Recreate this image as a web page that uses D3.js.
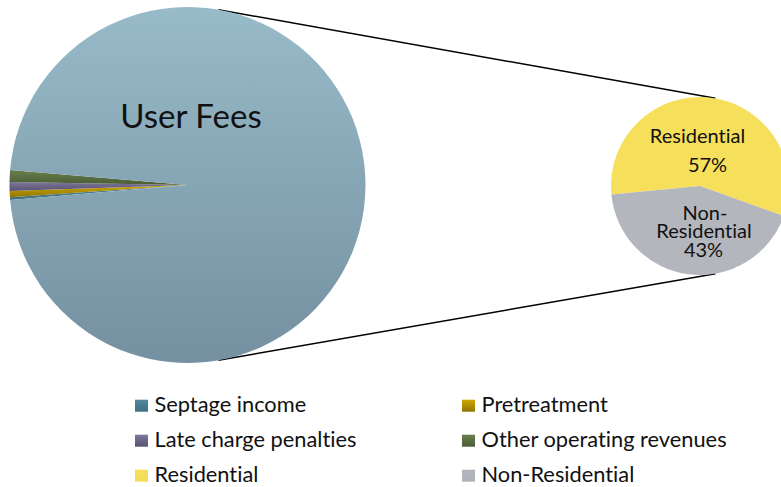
<!DOCTYPE html>
<html><head><meta charset="utf-8">
<script src="https://cdn.jsdelivr.net/npm/d3@7"></script>
<style>body{margin:0;background:#fff;}svg{display:block;font-family:Lato,"Open Sans",sans-serif;font-variant-ligatures:none;}</style>
</head><body>
<svg id="chart" width="781" height="487"></svg>
<script>
// ---- data ----
const mainCategories = ["Septage income", "Pretreatment", "Late charge penalties", "Other operating revenues", "User Fees"];
const mainValues = [0.24, 0.57, 0.81, 1.07, 97.31];
const subCategories = ["Residential", "Non-Residential"];
const subValues = [57, 43];
const subLabels = [["Residential", "57%"], ["Non-", "Residential", "43%"]];
const legendItems = ["Septage income", "Pretreatment", "Late charge penalties", "Other operating revenues", "Residential", "Non-Residential"];

// ---- styles ----
const colorStops = {
  "Septage income": ["#4f8a9e", "#3e6f80"],
  "Pretreatment": ["#cfa800", "#8f7500"],
  "Late charge penalties": ["#7e769c", "#5a5270"],
  "Other operating revenues": ["#68804c", "#4a5c36"],
  "User Fees": ["#98bbc9", "#7590a0"],
  "Residential": ["#f6df5b", "#f4dc55"],
  "Non-Residential": ["#b4b6be", "#b0b2ba"]
};

const svg = d3.select("#chart");
const defs = svg.append("defs");
const gid = name => "g_" + name.replace(/[^A-Za-z]/g, "");
Object.entries(colorStops).forEach(([k, c]) => {
  const g = defs.append("linearGradient").attr("id", gid(k)).attr("x1", 0).attr("y1", 0).attr("x2", 0).attr("y2", 1);
  g.append("stop").attr("offset", "0%").attr("stop-color", c[0]);
  g.append("stop").attr("offset", "100%").attr("stop-color", c[1]);
});
const mainC = [187.5, 185], mainR = 178;
const subC = [700, 186], subR = 89;

const deg = Math.PI / 180;
const total = d3.sum(mainValues);
const smallSum = d3.sum(mainValues.slice(0, 4));
const mainStart = 1.5 * Math.PI - (smallSum / total) * Math.PI;

const mainPie = d3.pie().sort(null).value(d => d.v).startAngle(mainStart).endAngle(mainStart + 2 * Math.PI);
const mainArcs = mainPie(mainCategories.map((c, i) => ({ c, v: mainValues[i] })));
const arcMain = d3.arc().innerRadius(0).outerRadius(mainR);

// connector lines
const connAngle = 10 * deg;
const pt = (c, r, a) => [c[0] + r * Math.sin(a), c[1] - r * Math.cos(a)];
[connAngle, Math.PI - connAngle].forEach(a => {
  const p1 = pt(mainC, mainR, a), p2 = pt(subC, subR, a);
  svg.append("line").attr("x1", p1[0]).attr("y1", p1[1]).attr("x2", p2[0]).attr("y2", p2[1])
    .attr("stroke", "#000").attr("stroke-width", 1.5);
});

const gMain = svg.append("g").attr("transform", `translate(${mainC[0]},${mainC[1]})`);
gMain.selectAll("path").data(mainArcs).enter().append("path")
  .attr("d", arcMain)
  .attr("fill", d => `url(#${gid(d.data.c)})`);

gMain.append("text").attr("x", 3.5).attr("y", -57.3).attr("text-anchor", "middle")
  .attr("font-size", 33).attr("fill", "#111").text("User Fees");

// second pie
const subPie = d3.pie().sort(null).startAngle(264.5 * deg).endAngle(264.5 * deg + 2 * Math.PI);
const subArcs = subPie(subValues);
const arcSub = d3.arc().innerRadius(0).outerRadius(subR);
const gSub = svg.append("g").attr("transform", `translate(${subC[0]},${subC[1]})`);
gSub.selectAll("path").data(subArcs).enter().append("path")
  .attr("d", arcSub).attr("fill", (d, i) => colorStops[subCategories[i]][0]);

const subLabelPos = [[[-2.5, -42.7], [7.5, -14.3]], [[5, 34], [4, 52.3], [3.5, 70.7]]];
subLabels.forEach((lines, i) => {
  lines.forEach((t, j) => {
    gSub.append("text").attr("x", subLabelPos[i][j][0]).attr("y", subLabelPos[i][j][1])
      .attr("text-anchor", "middle").attr("font-size", 20).attr("fill", "#111").text(t);
  });
});

// legend
const legX = [135, 462], legY = [411.7, 446.7, 481.7];
const lg = svg.append("g");
legendItems.forEach((name, i) => {
  const x = legX[i % 2], y = legY[Math.floor(i / 2)];
  lg.append("rect").attr("x", x).attr("y", y - 12).attr("width", 13).attr("height", 12)
    .attr("fill", `url(#${gid(name)})`);
  lg.append("text").attr("x", x + 19.5).attr("y", y).attr("font-size", 21.8).attr("fill", "#111").text(name);
});
</script>
</body></html>
